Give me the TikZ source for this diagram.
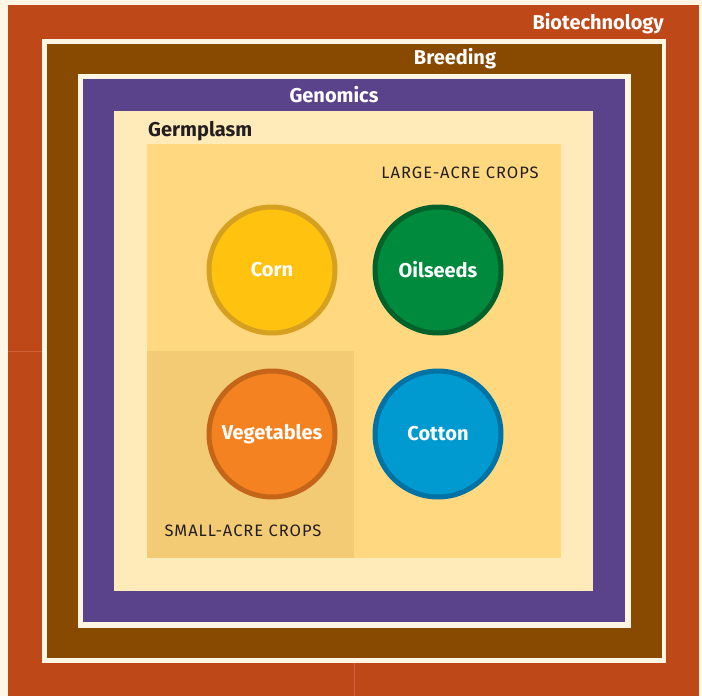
\documentclass[tikz,border=0pt]{standalone}
\usepackage{fontspec}
\setmainfont{Fira Sans}
\definecolor{cream}{HTML}{FFF6E3}
\definecolor{biored}{HTML}{BF4819}
\definecolor{brownb}{HTML}{874A00}
\definecolor{purp}{HTML}{5A438A}
\definecolor{germ}{HTML}{FFEBBA}
\definecolor{large}{HTML}{FFD880}
\definecolor{small}{HTML}{F2CB74}
\definecolor{darktxt}{HTML}{231F20}
\definecolor{cornF}{HTML}{FFC20E}
\definecolor{cornB}{HTML}{D6A021}
\definecolor{oilF}{HTML}{008A3E}
\definecolor{oilB}{HTML}{00612A}
\definecolor{vegF}{HTML}{F58220}
\definecolor{vegB}{HTML}{C4651A}
\definecolor{cotF}{HTML}{0099D0}
\definecolor{cotB}{HTML}{0072A3}
\definecolor{seam}{HTML}{CF6238}
\tikzset{
  crop/.style={circle, minimum size=126pt, inner sep=0pt, line width=5pt, text=white, font=\fontsize{20}{24}\selectfont\bfseries},
  title/.style={text=white, font=\fontsize{20}{24}\selectfont\bfseries, inner sep=0pt},
  caps/.style={text=darktxt, font=\fontsize{16.5}{19}\selectfont\addfontfeature{LetterSpace=6}, inner sep=0pt},
}
\begin{document}
\begin{tikzpicture}[x=1pt,y=-1pt]
\fill[cream] (0,0) rectangle (702,696);
\useasboundingbox (0,0) rectangle (702,696);
\fill[biored] (8,5) rectangle (699,696);
\draw[seam, line width=0.6pt] (8,351) -- (42,351);
\draw[seam, line width=0.6pt] (354,663) -- (354,696);
\fill[cream] (42,39) rectangle (666,663);
\fill[brownb] (47,44) rectangle (662,658);
\fill[cream] (78,74) rectangle (631,628);
\fill[purp] (83,79) rectangle (625,622);
\fill[germ] (114,111) rectangle (593,591);
\fill[large] (147,144) rectangle (561,558);
\fill[small] (147,351) rectangle (354,558);
\node[title, anchor=base east] (bio) at (664,29) {Biotechnology};
\node[title] (bre) at (455,59) {Breeding};
\node[title] (gen) at (334,95) {Genomics};
\node[title, text=darktxt, anchor=base west] (ger) at (148,136) {Germplasm};
\node[caps] (lac) at (460,173) {LARGE-ACRE CROPS};
\node[caps] (sac) at (243,531) {SMALL-ACRE CROPS};
\node[crop, fill=cornF, draw=cornB] (corn) at (272,270) {Corn};
\node[crop, fill=oilF, draw=oilB] (oil) at (438,270) {Oilseeds};
\node[crop, fill=vegF, draw=vegB] (veg) at (272,434) {Vegetables};
\node[crop, fill=cotF, draw=cotB] (cot) at (438,434) {Cotton};
\end{tikzpicture}
\end{document}
